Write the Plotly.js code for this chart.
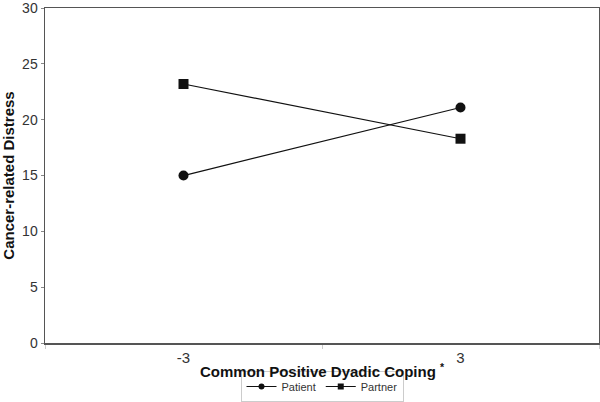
<!DOCTYPE html>
<html>
<head>
<meta charset="utf-8">
<script src="https://cdn.plot.ly/plotly-3.0.1.min.js"></script>
<style>html,body{margin:0;padding:0;background:#fff;}#chart{width:600px;height:402px;}</style>
</head>
<body>
<div id="chart"></div>
<script>
const categories = ["-3", "3"];
const patientValues = [15.0, 21.1];
const partnerValues = [23.2, 18.3];
const seriesNames = ["Patient", "Partner"];
const yTicks = [0, 5, 10, 15, 20, 25, 30];
const xTitle = "Common Positive Dyadic Coping <sup>*</sup>";
const yTitle = "Cancer-related Distress";

const traces = [
  {
    x: categories, y: patientValues, name: seriesNames[0], showlegend: false,
    type: "scatter", mode: "lines+markers",
    line: {color: "#111", width: 1.2},
    marker: {symbol: "circle", size: 10, color: "#111"}
  },
  {
    x: categories, y: partnerValues, name: seriesNames[1], showlegend: false,
    type: "scatter", mode: "lines+markers",
    line: {color: "#111", width: 1.2},
    marker: {symbol: "square", size: 10, color: "#111"}
  },
  {
    x: [null], y: [null], name: seriesNames[0], showlegend: true,
    type: "scatter", mode: "lines+markers",
    line: {color: "#111", width: 1},
    marker: {symbol: "circle", size: 6, color: "#111"}
  },
  {
    x: [null], y: [null], name: seriesNames[1], showlegend: true,
    type: "scatter", mode: "lines+markers",
    line: {color: "#111", width: 1},
    marker: {symbol: "square", size: 6, color: "#111"}
  }
];

const layout = {
  width: 600, height: 402,
  margin: {l: 45, r: 1, t: 8, b: 59, autoexpand: false},
  paper_bgcolor: "#fff", plot_bgcolor: "#fff",
  font: {family: "Arial, Liberation Sans, sans-serif", color: "#333"},
  showlegend: true,
  legend: {
    orientation: "h", xref: "paper", x: 0.5, xanchor: "center",
    yref: "container", y: 0.0, yanchor: "bottom",
    bordercolor: "#ccc", borderwidth: 1, font: {size: 11, color: "#333"},
    itemwidth: 30, tracegroupgap: 0
  },
  xaxis: {
    type: "category",
    range: [-0.5, 1.5],
    showline: true, linecolor: "#555", linewidth: 1.5, mirror: true,
    showgrid: false, zeroline: false,
    ticks: "outside", ticklen: 4, tickcolor: "#ccc", tickson: "boundaries",
    tickfont: {size: 15, color: "#333"},
    automargin: false
  },
  yaxis: {
    range: [0, 30.01],
    tickvals: yTicks,
    showline: true, linecolor: "#555", linewidth: 1.5, mirror: true,
    showgrid: false, zeroline: false,
    ticks: "outside", ticklen: 3, tickcolor: "#888",
    tickfont: {size: 14, color: "#333"},
    automargin: false,
    title: {text: yTitle, font: {size: 15, color: "#111", weight: "bold"}, standoff: 6}
  },
  annotations: [
    {
      text: xTitle, xref: "paper", yref: "paper", x: 0.5, y: -0.081,
      xanchor: "center", yanchor: "middle", showarrow: false,
      font: {size: 15, color: "#111", weight: "bold"}
    }
  ]
};

Plotly.newPlot("chart", traces, layout, {displayModeBar: false, staticPlot: true});
</script>
</body>
</html>
